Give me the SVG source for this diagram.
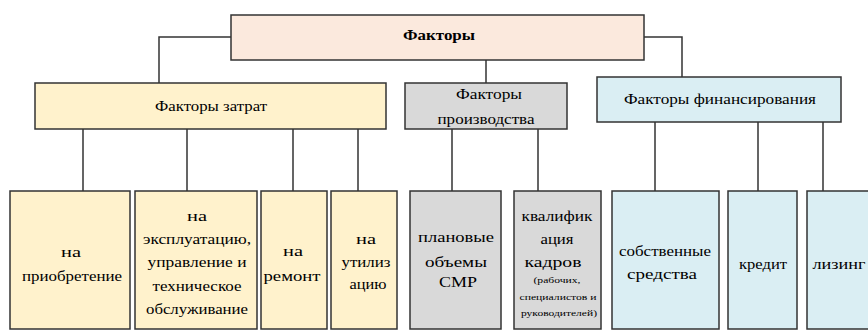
<svg xmlns="http://www.w3.org/2000/svg" width="868" height="331" viewBox="0 0 868 331">
<style>
.b{stroke:#333;stroke-width:1.5}
.top{fill:#fbe9dd}
.y{fill:#fff2cc}
.g{fill:#d9d9d9}
.c{fill:#daeef3}
text{font-family:"Liberation Serif","Times New Roman",serif;font-size:14px;fill:#000;text-anchor:middle}
.s{font-size:8.5px}
.bold{font-weight:bold}
#connectors path{fill:none;stroke:#333;stroke-width:1.5}
</style>
<rect width="868" height="331" fill="#fff"/>
<g id="connectors">
<path d="M231 37H159V83"/>
<path d="M486 60V83"/>
<path d="M644 37H682V77"/>
<path d="M83 129V191M187 129V191M293 129V191M358 129V191"/>
<path d="M452 129V191M538 129V191"/>
<path d="M655 122V191M758 122V191M823 122V191"/>
</g>
<g font-family="Liberation Serif, Times New Roman, serif">
<g id="n-factors"><rect class="b top" x="231" y="15" width="413" height="45"/><text class="bold" x="439" y="40" textLength="72" lengthAdjust="spacingAndGlyphs">Факторы</text></g>
<g id="n-costs"><rect class="b y" x="35" y="83" width="351" height="46"/><text x="211" y="111" textLength="112" lengthAdjust="spacingAndGlyphs">Факторы затрат</text></g>
<g id="n-prod"><rect class="b g" x="405" y="83" width="162" height="46"/><text x="489" y="99" textLength="66" lengthAdjust="spacingAndGlyphs">Факторы</text><text x="486" y="124" textLength="97" lengthAdjust="spacingAndGlyphs">производства</text></g>
<g id="n-fin"><rect class="b c" x="597" y="77" width="244" height="45"/><text x="720" y="104" textLength="192" lengthAdjust="spacingAndGlyphs">Факторы финансирования</text></g>
<g id="n-b1"><rect class="b y" x="10" y="191" width="120" height="138"/><text x="71" y="257" textLength="20" lengthAdjust="spacingAndGlyphs">на</text><text x="72" y="281" textLength="100" lengthAdjust="spacingAndGlyphs">приобретение</text></g>
<g id="n-b2"><rect class="b y" x="135" y="191" width="122" height="138"/><text x="197" y="221" textLength="20" lengthAdjust="spacingAndGlyphs">на</text><text x="197" y="244" textLength="108" lengthAdjust="spacingAndGlyphs">эксплуатацию,</text><text x="197" y="267" textLength="99" lengthAdjust="spacingAndGlyphs">управление и</text><text x="197" y="291" textLength="89" lengthAdjust="spacingAndGlyphs">техническое</text><text x="197" y="314" textLength="102" lengthAdjust="spacingAndGlyphs">обслуживание</text></g>
<g id="n-b3"><rect class="b y" x="261" y="191" width="66" height="138"/><text x="293" y="256" textLength="20" lengthAdjust="spacingAndGlyphs">на</text><text x="292" y="281" textLength="57" lengthAdjust="spacingAndGlyphs">ремонт</text></g>
<g id="n-b4"><rect class="b y" x="331" y="191" width="66" height="138"/><text x="366" y="244" textLength="20" lengthAdjust="spacingAndGlyphs">на</text><text x="366" y="267" textLength="49" lengthAdjust="spacingAndGlyphs">утилиз</text><text x="368" y="289" textLength="37" lengthAdjust="spacingAndGlyphs">ацию</text></g>
<g id="n-b5"><rect class="b g" x="410" y="191" width="91" height="138"/><text x="456" y="242" textLength="76" lengthAdjust="spacingAndGlyphs">плановые</text><text x="456" y="267" textLength="62" lengthAdjust="spacingAndGlyphs">объемы</text><text x="458" y="287" textLength="38" lengthAdjust="spacingAndGlyphs">СМР</text></g>
<g id="n-b6"><rect class="b g" x="514" y="191" width="87" height="138"/><text x="557" y="221" textLength="71" lengthAdjust="spacingAndGlyphs">квалифик</text><text x="557" y="244" textLength="33" lengthAdjust="spacingAndGlyphs">ация</text><text x="553" y="267" textLength="57" lengthAdjust="spacingAndGlyphs">кадров</text><text class="s" x="557" y="283" textLength="47" lengthAdjust="spacingAndGlyphs">(рабочих,</text><text class="s" x="558" y="300" textLength="77" lengthAdjust="spacingAndGlyphs">специалистов и</text><text class="s" x="559" y="316" textLength="76" lengthAdjust="spacingAndGlyphs">руководителей)</text></g>
<g id="n-b7"><rect class="b c" x="612" y="191" width="107" height="138"/><text x="665" y="256" textLength="92" lengthAdjust="spacingAndGlyphs">собственные</text><text x="662" y="279" textLength="70" lengthAdjust="spacingAndGlyphs">средства</text></g>
<g id="n-b8"><rect class="b c" x="728" y="191" width="69" height="138"/><text x="763" y="269" textLength="48" lengthAdjust="spacingAndGlyphs">кредит</text></g>
<g id="n-b9"><rect class="b c" x="807" y="191" width="68" height="138"/><text x="839" y="269" textLength="53" lengthAdjust="spacingAndGlyphs">лизинг</text></g>
</g>
</svg>
